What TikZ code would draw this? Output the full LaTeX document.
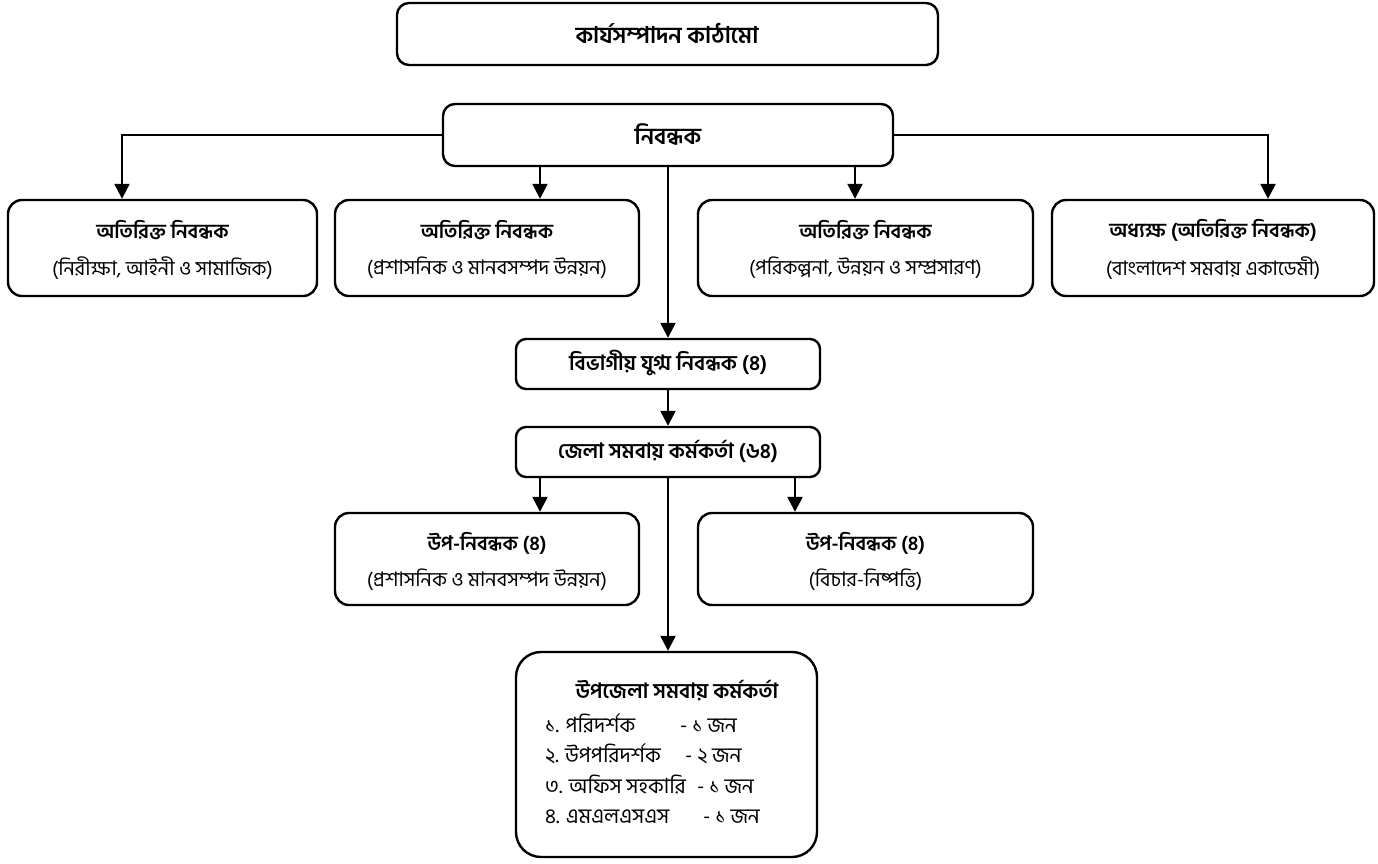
\documentclass[tikz,border=0pt]{standalone}
\usepackage{fontspec}
\newfontfamily\bn[Script=Bengali]{Hind Siliguri}
\usetikzlibrary{arrows.meta}
\begin{document}
\begin{tikzpicture}[x=1pt,y=-1pt,
  box/.style={draw, line width=2.4pt, rounded corners=14pt, inner sep=0pt},
  arr/.style={line width=2.4pt, -{Triangle[width=15pt,length=15pt]}},
  bigttl/.style={font=\bn\bfseries\fontsize{23}{26}\selectfont, inner sep=0pt},
  ttl/.style={font=\bn\bfseries\fontsize{21}{24}\selectfont, inner sep=0pt},
  rttl/.style={font=\bn\bfseries\fontsize{20}{23}\selectfont, inner sep=0pt},
  sub/.style={font=\bn\fontsize{20}{23}\selectfont, inner sep=0pt},
  itm/.style={font=\bn\fontsize{21}{24}\selectfont, inner sep=0pt, anchor=base west}]
\useasboundingbox (0,0) rectangle (1378,863);
% boxes
\node[box, rounded corners=12pt, minimum width=541pt, minimum height=62pt] (top) at (667.5,34) {};
\node[box, rounded corners=12pt, minimum width=450pt, minimum height=62pt] (nib) at (668,135) {};
\node[box, minimum width=309pt, minimum height=96pt] (b1) at (162.5,248) {};
\node[box, minimum width=304pt, minimum height=96pt] (b2) at (487,248) {};
\node[box, minimum width=335pt, minimum height=96pt] (b3) at (865.5,248) {};
\node[box, minimum width=322pt, minimum height=96pt] (b4) at (1213,248) {};
\node[box, rounded corners=10pt, minimum width=304pt, minimum height=50pt] (biv) at (668,364) {};
\node[box, rounded corners=10pt, minimum width=304pt, minimum height=50pt] (jela) at (668,452) {};
\node[box, minimum width=304pt, minimum height=92pt] (ra) at (487,559) {};
\node[box, minimum width=335pt, minimum height=92pt] (rb) at (865.5,559) {};
\node[box, rounded corners=25pt, minimum width=301pt, minimum height=205pt] (bot) at (666.5,754.5) {};
% texts
\node[bigttl] (t0) at (667,33) {কার্যসম্পাদন কাঠামো};
\node[bigttl] (t1) at (668,134) {নিবন্ধক};
\node[rttl] (b1t) at (162.5,230) {অতিরিক্ত নিবন্ধক};
\node[sub] (b1s) at (162.5,268) {(নিরীক্ষা, আইনী ও সামাজিক)};
\node[rttl] (b2t) at (487,230) {অতিরিক্ত নিবন্ধক};
\node[sub] (b2s) at (487,268) {(প্রশাসনিক ও মানবসম্পদ উন্নয়ন)};
\node[rttl] (b3t) at (865.5,230) {অতিরিক্ত নিবন্ধক};
\node[sub] (b3s) at (865.5,268) {(পরিকল্পনা, উন্নয়ন ও সম্প্রসারণ)};
\node[rttl] (b4t) at (1213,230) {অধ্যক্ষ (অতিরিক্ত নিবন্ধক)};
\node[sub] (b4s) at (1213,268) {(বাংলাদেশ সমবায় একাডেমী)};
\node[ttl] (bivt) at (668,363) {বিভাগীয় যুগ্ম নিবন্ধক (৪)};
\node[ttl] (jelat) at (668,451) {জেলা সমবায় কর্মকর্তা (৬৪)};
\node[rttl] (rat) at (487,543) {উপ-নিবন্ধক (৪)};
\node[sub] (ras) at (487,580) {(প্রশাসনিক ও মানবসম্পদ উন্নয়ন)};
\node[rttl] (rbt) at (865.5,543) {উপ-নিবন্ধক (৪)};
\node[sub] (rbs) at (865.5,580) {(বিচার-নিষ্পত্তি)};
\node[ttl] (bott) at (677,691) {উপজেলা সমবায় কর্মকর্তা};
\node[itm] (i1) at (545,732) {১. পরিদর্শক};
\node[itm] (i1n) at (680,732) {- ১ জন};
\node[itm] (i2) at (545,762) {২. উপপরিদর্শক};
\node[itm] (i2n) at (685,762) {- ২ জন};
\node[itm] (i3) at (545,793) {৩. অফিস সহকারি};
\node[itm] (i3n) at (697,793) {- ১ জন};
\node[itm] (i4) at (545,823) {৪. এমএলএসএস};
\node[itm] (i4n) at (703,823) {- ১ জন};
% connector x positions
\coordinate (c1) at (122,135);
\coordinate (c2) at (540,135);
\coordinate (c3) at (855,135);
\coordinate (c4) at (1268,135);
\coordinate (d1) at (540,452);
\coordinate (d2) at (795,452);
% connectors
\draw[arr] (nib.west) -| (b1.north -| c1);
\draw[arr] (nib.east) -| (b4.north -| c4);
\draw[arr] (nib.south -| c2) -- (b2.north -| c2);
\draw[arr] (nib.south -| c3) -- (b3.north -| c3);
\draw[arr] (nib.south) -- (biv.north);
\draw[arr] (biv.south) -- (jela.north);
\draw[arr] (jela.south -| d1) -- (ra.north -| d1);
\draw[arr] (jela.south -| d2) -- (rb.north -| d2);
\draw[arr] (jela.south) -- (jela.south |- bot.north);
\end{tikzpicture}
\end{document}
